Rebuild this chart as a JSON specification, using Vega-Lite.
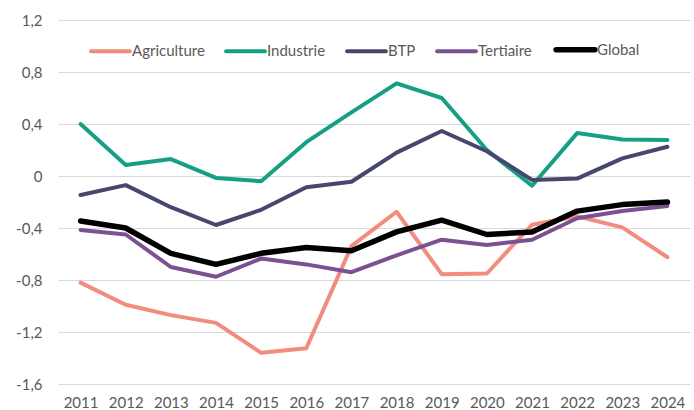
{
  "$schema": "https://vega.github.io/schema/vega-lite/v6.json",
  "autosize": {"type": "none"},
  "padding": {"left": 58, "top": 20, "right": 4, "bottom": 26},
  "width": 632,
  "height": 364,
  "background": "white",
  "config": {
    "view": {"stroke": null},
    "font": "Lato",
    "axis": {"labelColor": "#595959", "labelFont": "Lato", "labelFontSize": 15},
    "legend": {"labelColor": "#595959", "labelFont": "Lato", "labelFontSize": 15}
  },
  "data": {
    "values": [
      {"year": "2011", "series": "Agriculture", "value": -0.82},
      {"year": "2012", "series": "Agriculture", "value": -0.99},
      {"year": "2013", "series": "Agriculture", "value": -1.07},
      {"year": "2014", "series": "Agriculture", "value": -1.13},
      {"year": "2015", "series": "Agriculture", "value": -1.36},
      {"year": "2016", "series": "Agriculture", "value": -1.325},
      {"year": "2017", "series": "Agriculture", "value": -0.54},
      {"year": "2018", "series": "Agriculture", "value": -0.275},
      {"year": "2019", "series": "Agriculture", "value": -0.755},
      {"year": "2020", "series": "Agriculture", "value": -0.75},
      {"year": "2021", "series": "Agriculture", "value": -0.375},
      {"year": "2022", "series": "Agriculture", "value": -0.31},
      {"year": "2023", "series": "Agriculture", "value": -0.395},
      {"year": "2024", "series": "Agriculture", "value": -0.625},
      {"year": "2011", "series": "Industrie", "value": 0.4},
      {"year": "2012", "series": "Industrie", "value": 0.085},
      {"year": "2013", "series": "Industrie", "value": 0.13},
      {"year": "2014", "series": "Industrie", "value": -0.015},
      {"year": "2015", "series": "Industrie", "value": -0.04},
      {"year": "2016", "series": "Industrie", "value": 0.26},
      {"year": "2017", "series": "Industrie", "value": 0.49},
      {"year": "2018", "series": "Industrie", "value": 0.713},
      {"year": "2019", "series": "Industrie", "value": 0.6},
      {"year": "2020", "series": "Industrie", "value": 0.2},
      {"year": "2021", "series": "Industrie", "value": -0.075},
      {"year": "2022", "series": "Industrie", "value": 0.33},
      {"year": "2023", "series": "Industrie", "value": 0.28},
      {"year": "2024", "series": "Industrie", "value": 0.277},
      {"year": "2011", "series": "BTP", "value": -0.146},
      {"year": "2012", "series": "BTP", "value": -0.07},
      {"year": "2013", "series": "BTP", "value": -0.24},
      {"year": "2014", "series": "BTP", "value": -0.377},
      {"year": "2015", "series": "BTP", "value": -0.26},
      {"year": "2016", "series": "BTP", "value": -0.087},
      {"year": "2017", "series": "BTP", "value": -0.044},
      {"year": "2018", "series": "BTP", "value": 0.18},
      {"year": "2019", "series": "BTP", "value": 0.346},
      {"year": "2020", "series": "BTP", "value": 0.19},
      {"year": "2021", "series": "BTP", "value": -0.03},
      {"year": "2022", "series": "BTP", "value": -0.02},
      {"year": "2023", "series": "BTP", "value": 0.136},
      {"year": "2024", "series": "BTP", "value": 0.225},
      {"year": "2011", "series": "Tertiaire", "value": -0.415},
      {"year": "2012", "series": "Tertiaire", "value": -0.45},
      {"year": "2013", "series": "Tertiaire", "value": -0.7},
      {"year": "2014", "series": "Tertiaire", "value": -0.775},
      {"year": "2015", "series": "Tertiaire", "value": -0.635},
      {"year": "2016", "series": "Tertiaire", "value": -0.68},
      {"year": "2017", "series": "Tertiaire", "value": -0.74},
      {"year": "2018", "series": "Tertiaire", "value": -0.61},
      {"year": "2019", "series": "Tertiaire", "value": -0.49},
      {"year": "2020", "series": "Tertiaire", "value": -0.53},
      {"year": "2021", "series": "Tertiaire", "value": -0.49},
      {"year": "2022", "series": "Tertiaire", "value": -0.325},
      {"year": "2023", "series": "Tertiaire", "value": -0.27},
      {"year": "2024", "series": "Tertiaire", "value": -0.23},
      {"year": "2011", "series": "Global", "value": -0.346},
      {"year": "2012", "series": "Global", "value": -0.4},
      {"year": "2013", "series": "Global", "value": -0.595},
      {"year": "2014", "series": "Global", "value": -0.68},
      {"year": "2015", "series": "Global", "value": -0.595},
      {"year": "2016", "series": "Global", "value": -0.55},
      {"year": "2017", "series": "Global", "value": -0.575},
      {"year": "2018", "series": "Global", "value": -0.43},
      {"year": "2019", "series": "Global", "value": -0.34},
      {"year": "2020", "series": "Global", "value": -0.45},
      {"year": "2021", "series": "Global", "value": -0.43},
      {"year": "2022", "series": "Global", "value": -0.27},
      {"year": "2023", "series": "Global", "value": -0.22},
      {"year": "2024", "series": "Global", "value": -0.2}
    ]
  },
  "mark": {"type": "line", "strokeCap": "round", "strokeJoin": "round"},
  "encoding": {
    "x": {
      "field": "year", "type": "ordinal",
      "scale": {"type": "point", "padding": 0.5},
      "axis": {"title": null, "labelAngle": 0, "domain": false, "ticks": false, "labelPadding": 11, "grid": false}
    },
    "y": {
      "field": "value", "type": "quantitative",
      "scale": {"domain": [-1.6, 1.2], "nice": false, "zero": false},
      "axis": {
        "title": null, "values": [-1.6, -1.2, -0.8, -0.4, 0, 0.4, 0.8, 1.2],
        "domain": false, "ticks": false, "labelPadding": 16,
        "gridColor": "#d9d9d9", "gridWidth": 1,
        "labelExpr": "datum.value == 0 ? '0' : replace(replace(format(datum.value, '.1f'), '.', ','), '−', '-')"
      }
    },
    "color": {
      "field": "series", "type": "nominal",
      "scale": {
        "domain": ["Agriculture", "Industrie", "BTP", "Tertiaire", "Global"],
        "range": ["#F28C7E", "#15A084", "#45476F", "#7B5193", "#000000"]
      },
      "legend": {
        "title": null, "orient": "none", "direction": "horizontal",
        "legendX": 45, "legendY": 22,
        "symbolType": "stroke", "symbolSize": 1500, "symbolStrokeWidth": 4,
        "labelOffset": 14, "columnPadding": 13,
        "encode": {"symbols": {"update": {"strokeWidth": {"signal": "datum.value == 'Global' ? 5.5 : 4"}, "strokeCap": {"value": "round"}}}}
      }
    },
    "strokeWidth": {
      "condition": {"test": "datum.series == 'Global'", "value": 5.5},
      "value": 4
    }
  }
}
